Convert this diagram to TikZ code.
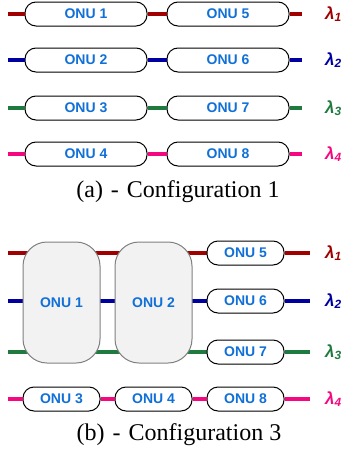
\documentclass[tikz,border=0pt]{standalone}
\usepackage{fontspec}
\setmainfont{Liberation Serif}
\setsansfont{Liberation Sans}
\usetikzlibrary{backgrounds}
\definecolor{wlred}{HTML}{A00000}
\definecolor{wlblue}{HTML}{0000A0}
\definecolor{wlgreen}{HTML}{1F7A3F}
\definecolor{wlpink}{HTML}{F5087F}
\definecolor{onutext}{HTML}{1070D8}
\definecolor{bigfill}{HTML}{F2F2F2}
\begin{document}
\begin{tikzpicture}[x=1pt,y=-1pt,
  onu/.style={draw=black, line width=1pt, rounded corners=11pt, fill=white,
    minimum height=24pt, inner sep=0pt, text=onutext,
    font=\sffamily\bfseries\fontsize{14}{16}\selectfont},
  onulong/.style={onu, minimum width=122pt},
  onushort/.style={onu, minimum width=77pt},
  onubig/.style={onu, draw=gray, fill=bigfill, rounded corners=24pt,
    minimum width=77pt, minimum height=121pt},
  fibre/.style={line width=3.4pt},
  wl/.style={anchor=west, inner sep=0pt,
    font=\sffamily\bfseries\itshape\fontsize{17}{19}\selectfont},
  caption/.style={font=\fontsize{24}{27}\selectfont, inner sep=0pt}]
\useasboundingbox (0,0) rectangle (345,450);

% ---------- (a) Configuration 1 ----------
\foreach \r/\y/\c/\a/\b in {1/14/wlred/1/5, 2/60/wlblue/2/6, 3/108/wlgreen/3/7, 4/154/wlpink/4/8}{
  \node[onulong] (A\a) at (86,\y) {ONU \a};
  \node[onulong] (A\b) at (228,\y) {ONU \b};
  \coordinate (al\r) at (8,\y);
  \coordinate (ar\r) at (302,\y);
  \draw[fibre,\c] (al\r) -- (A\a.west);
  \draw[fibre,\c] (A\a.east) -- (A\b.west);
  \draw[fibre,\c] (A\b.east) -- (ar\r);
  \node[wl,text=\c] (lamA\r) at (325,\y) {λ\textsubscript{\r}};
}
\node[caption] (capA) at (178,192) {(a)\,\,-\,\,Configuration 1};

% ---------- (b) Configuration 3 ----------
\node[onubig] (B1) at (61.5,302.5) {ONU 1};
\node[onubig] (B2) at (153.5,302.5) {ONU 2};
\foreach \r/\y/\c/\n in {1/253/wlred/5, 2/301/wlblue/6, 3/352/wlgreen/7}{
  \node[onushort] (B\n) at (245.5,\y) {ONU \n};
  \coordinate (bl\r) at (8,\y);
  \coordinate (br\r) at (310,\y);
  \begin{scope}[on background layer]
    \draw[fibre,\c] (bl\r) -- (B\n.west);
  \end{scope}
  \draw[fibre,\c] (B\n.east) -- (br\r);
  \node[wl,text=\c] (lamB\r) at (325,\y) {λ\textsubscript{\r}};
}
\node[onushort] (B3) at (61.5,399) {ONU 3};
\node[onushort] (B4) at (153.5,399) {ONU 4};
\node[onushort] (B8) at (245.5,399) {ONU 8};
\coordinate (bl4) at (8,399);
\coordinate (br4) at (310,399);
\draw[fibre,wlpink] (bl4) -- (B3.west);
\draw[fibre,wlpink] (B3.east) -- (B4.west);
\draw[fibre,wlpink] (B4.east) -- (B8.west);
\draw[fibre,wlpink] (B8.east) -- (br4);
\node[wl,text=wlpink] (lamB4) at (325,399) {λ\textsubscript{4}};
\node[caption] (capB) at (179,435) {(b)\,\,-\,\,Configuration 3};
\end{tikzpicture}
\end{document}
